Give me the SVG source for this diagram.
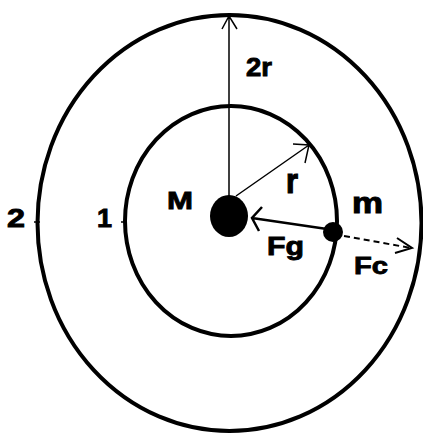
<svg xmlns="http://www.w3.org/2000/svg" width="423" height="435" viewBox="0 0 423 435">
<style>
.orbit{fill:none;stroke:#000;stroke-width:4}
.thin{fill:none;stroke:#000;stroke-width:1.5}
.lbl{font-family:"Liberation Sans",Arial,sans-serif;font-weight:bold;font-size:20px;fill:#000;stroke:#000;stroke-width:0.7}
</style>
<rect width="423" height="435" fill="#fff"/>
<g id="orbit2"><ellipse class="orbit" cx="229.5" cy="223" rx="192" ry="208"/><line class="thin" x1="34" y1="222" x2="40" y2="222"/></g>
<g id="orbit1"><ellipse class="orbit" cx="231" cy="221" rx="106" ry="115"/><line class="thin" x1="121" y1="222" x2="127" y2="222"/></g>
<g id="M"><ellipse cx="229" cy="216" rx="19" ry="21" fill="#000"/></g>
<g id="m"><circle cx="333" cy="232" r="10" fill="#000"/></g>
<g id="connectors">
<path class="thin" d="M229 196 V16 M222 29 L229 16 L237 29"/>
<path class="thin" d="M236 196 L309 145 M293 144 L309 145 L305 163"/>
<path fill="none" stroke="#000" stroke-width="2.5" d="M327 229 L252 218 M262 207 L252 218 L259 231"/>
<path fill="none" stroke="#000" stroke-width="2" stroke-dasharray="6,4" d="M344 236 L411 248"/>
<path fill="none" stroke="#000" stroke-width="2" d="M397 238 L412 248 L395 253"/>
</g>
<g id="labels">
<text class="lbl" transform="translate(246,76) scale(1,1.25)" textLength="26" lengthAdjust="spacingAndGlyphs">2r</text>
<text class="lbl" transform="translate(286,193) scale(1,1.75)" textLength="12" lengthAdjust="spacingAndGlyphs">r</text>
<text class="lbl" transform="translate(167,209) scale(1,1.18)" textLength="26" lengthAdjust="spacingAndGlyphs">M</text>
<text class="lbl" transform="translate(352,213) scale(1,1.45)" textLength="31" lengthAdjust="spacingAndGlyphs">m</text>
<text class="lbl" transform="translate(267,255) scale(1,1.25)" textLength="37" lengthAdjust="spacingAndGlyphs">Fg</text>
<text class="lbl" transform="translate(354,274) scale(1,1.18)" textLength="34" lengthAdjust="spacingAndGlyphs">Fc</text>
<text class="lbl" transform="translate(7,227) scale(1,1.28)" textLength="18" lengthAdjust="spacingAndGlyphs">2</text>
<text class="lbl" transform="translate(97,227) scale(1,1.28)" textLength="15" lengthAdjust="spacingAndGlyphs">1</text>
</g>
</svg>
